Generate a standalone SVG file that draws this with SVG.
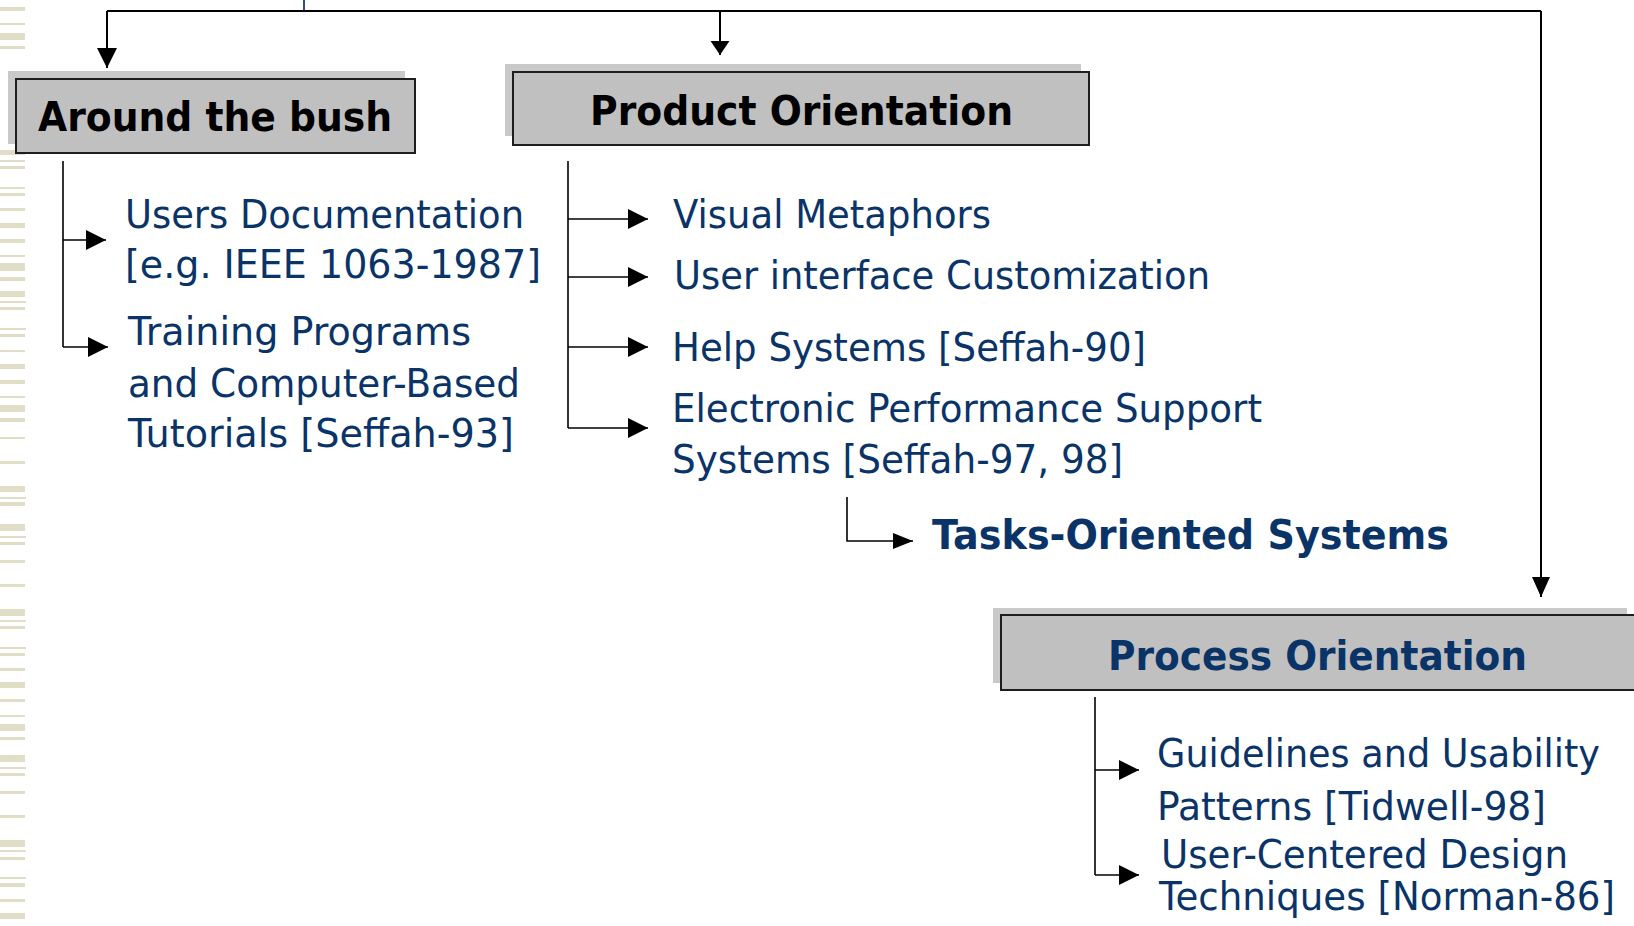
<svg xmlns="http://www.w3.org/2000/svg" width="1634" height="926" viewBox="0 0 1634 926">
<defs>
<style>
.stripe{fill:#e0dec6}
.shadow{fill:#c9c9c9}
.box{fill:#c0c0c0;stroke:#1e1e1e;stroke-width:2}
.head{font-family:"DejaVu Sans",Verdana,sans-serif;font-weight:bold;font-size:40px;fill:#000}
.headb{font-family:"DejaVu Sans",Verdana,sans-serif;font-weight:bold;font-size:40px;fill:#0a3468}
.item{font-family:"DejaVu Sans",Verdana,sans-serif;font-size:39px;fill:#0a3468}
.ln{fill:none;stroke:#000;stroke-width:2}
.lt{fill:none;stroke:#000;stroke-width:1.6}
</style>
<marker id="a20" markerUnits="userSpaceOnUse" markerWidth="20" markerHeight="20" refX="20" refY="10" orient="auto"><path d="M0,0 L20,10 L0,20 z" fill="#000"/></marker>
<marker id="amid" markerUnits="userSpaceOnUse" markerWidth="14" markerHeight="20" refX="14" refY="10" orient="auto"><path d="M0,0.5 L14,10 L0,19.5 z" fill="#000"/></marker>
<marker id="ar" markerUnits="userSpaceOnUse" markerWidth="20" markerHeight="18" refX="20" refY="9" orient="auto"><path d="M0,0 L20,9 L0,18 z" fill="#000"/></marker>
<marker id="at" markerUnits="userSpaceOnUse" markerWidth="20" markerHeight="16" refX="20" refY="8" orient="auto"><path d="M0,0 L20,8 L0,16 z" fill="#000"/></marker>
</defs>
<rect width="1634" height="926" fill="#fff"/>
<g id="stripes">
<rect class="stripe" x="0" y="7" width="25" height="4"/>
<rect class="stripe" x="0" y="23" width="25" height="2"/>
<rect class="stripe" x="0" y="33" width="25" height="7"/>
<rect class="stripe" x="0" y="46" width="25" height="3"/>
<rect class="stripe" x="0" y="150" width="25" height="5"/>
<rect class="stripe" x="0" y="160" width="25" height="2"/>
<rect class="stripe" x="0" y="166" width="25" height="3"/>
<rect class="stripe" x="0" y="187" width="25" height="2"/>
<rect class="stripe" x="0" y="193" width="25" height="3"/>
<rect class="stripe" x="0" y="208" width="25" height="3"/>
<rect class="stripe" x="0" y="223" width="25" height="5"/>
<rect class="stripe" x="0" y="239" width="25" height="4"/>
<rect class="stripe" x="0" y="255" width="25" height="2"/>
<rect class="stripe" x="0" y="263" width="25" height="8"/>
<rect class="stripe" x="0" y="277" width="25" height="4"/>
<rect class="stripe" x="0" y="291" width="25" height="6"/>
<rect class="stripe" x="0" y="301" width="26" height="2"/>
<rect class="stripe" x="0" y="307" width="25" height="3"/>
<rect class="stripe" x="0" y="328" width="26" height="2"/>
<rect class="stripe" x="0" y="334" width="25" height="3"/>
<rect class="stripe" x="0" y="350" width="25" height="2"/>
<rect class="stripe" x="0" y="364" width="25" height="5"/>
<rect class="stripe" x="0" y="380" width="25" height="4"/>
<rect class="stripe" x="0" y="396" width="25" height="2"/>
<rect class="stripe" x="0" y="405" width="25" height="7"/>
<rect class="stripe" x="0" y="418" width="25" height="4"/>
<rect class="stripe" x="0" y="437" width="25" height="2"/>
<rect class="stripe" x="0" y="461" width="25" height="3"/>
<rect class="stripe" x="0" y="486" width="25" height="6"/>
<rect class="stripe" x="0" y="497" width="26" height="2"/>
<rect class="stripe" x="0" y="502" width="25" height="4"/>
<rect class="stripe" x="0" y="524" width="25" height="7"/>
<rect class="stripe" x="0" y="536" width="26" height="2"/>
<rect class="stripe" x="0" y="542" width="25" height="3"/>
<rect class="stripe" x="0" y="560" width="25" height="3"/>
<rect class="stripe" x="0" y="584" width="25" height="3"/>
<rect class="stripe" x="0" y="609" width="25" height="7"/>
<rect class="stripe" x="0" y="620" width="26" height="2"/>
<rect class="stripe" x="0" y="626" width="25" height="3"/>
<rect class="stripe" x="0" y="647" width="26" height="2"/>
<rect class="stripe" x="0" y="653" width="25" height="3"/>
<rect class="stripe" x="0" y="668" width="25" height="3"/>
<rect class="stripe" x="0" y="682" width="25" height="6"/>
<rect class="stripe" x="0" y="699" width="25" height="3"/>
<rect class="stripe" x="0" y="715" width="25" height="2"/>
<rect class="stripe" x="0" y="724" width="25" height="7"/>
<rect class="stripe" x="0" y="737" width="25" height="3"/>
<rect class="stripe" x="0" y="755" width="25" height="7"/>
<rect class="stripe" x="0" y="767" width="26" height="2"/>
<rect class="stripe" x="0" y="773" width="25" height="3"/>
<rect class="stripe" x="0" y="791" width="25" height="3"/>
<rect class="stripe" x="0" y="815" width="25" height="3"/>
<rect class="stripe" x="0" y="840" width="25" height="7"/>
<rect class="stripe" x="0" y="850" width="26" height="2"/>
<rect class="stripe" x="0" y="857" width="25" height="3"/>
<rect class="stripe" x="0" y="877" width="26" height="2"/>
<rect class="stripe" x="0" y="883" width="25" height="4"/>
<rect class="stripe" x="0" y="899" width="25" height="3"/>
<rect class="stripe" x="0" y="913" width="25" height="6"/>
</g>
<line x1="304" y1="0" x2="304" y2="11" stroke="#2b4f8a" stroke-width="2"/>
<g id="connectors">
<path class="ln" d="M107,11 H1541"/>
<path class="ln" d="M107,11 V68" marker-end="url(#a20)"/>
<path class="ln" d="M720,11 V55" marker-end="url(#amid)"/>
<path class="ln" d="M1541,11 V597" marker-end="url(#ar)"/>
<path class="lt" d="M63,161 V347"/>
<path class="lt" d="M63,240 H106" marker-end="url(#a20)"/>
<path class="lt" d="M63,347 H108" marker-end="url(#a20)"/>
<path class="lt" d="M568,161 V428"/>
<path class="lt" d="M568,219 H648" marker-end="url(#a20)"/>
<path class="lt" d="M568,277 H648" marker-end="url(#a20)"/>
<path class="lt" d="M568,347 H648" marker-end="url(#a20)"/>
<path class="lt" d="M568,428 H648" marker-end="url(#a20)"/>
<path class="lt" d="M847,497 V541 H913" marker-end="url(#at)"/>
<path class="lt" d="M1095,697 V875"/>
<path class="lt" d="M1095,770 H1139" marker-end="url(#a20)"/>
<path class="lt" d="M1095,875 H1139" marker-end="url(#a20)"/>
</g>
<g id="around">
<rect class="shadow" x="8" y="71" width="397" height="73"/>
<rect class="box" x="16" y="79" width="399" height="74"/>
<text class="head" x="38" y="131" textLength="354" lengthAdjust="spacingAndGlyphs">Around the bush</text>
</g>
<g id="product">
<rect class="shadow" x="505" y="64" width="576" height="72"/>
<rect class="box" x="513" y="72" width="576" height="73"/>
<text class="head" x="590" y="125" textLength="423" lengthAdjust="spacingAndGlyphs">Product Orientation</text>
</g>
<g id="process">
<rect class="shadow" x="993" y="608" width="634" height="75"/>
<rect class="box" x="1001" y="615" width="640" height="75"/>
<text class="headb" x="1108" y="670" textLength="419" lengthAdjust="spacingAndGlyphs">Process Orientation</text>
</g>
<g id="around-items">
<text class="item" x="125" y="228" textLength="399" lengthAdjust="spacingAndGlyphs">Users Documentation</text>
<text class="item" x="125" y="278" textLength="416" lengthAdjust="spacingAndGlyphs">[e.g. IEEE 1063-1987]</text>
<text class="item" x="128" y="345" textLength="343" lengthAdjust="spacingAndGlyphs">Training Programs</text>
<text class="item" x="128" y="397" textLength="392" lengthAdjust="spacingAndGlyphs">and Computer-Based</text>
<text class="item" x="128" y="447" textLength="386" lengthAdjust="spacingAndGlyphs">Tutorials [Seffah-93]</text>
</g>
<g id="product-items">
<text class="item" x="673" y="228" textLength="318" lengthAdjust="spacingAndGlyphs">Visual Metaphors</text>
<text class="item" x="674" y="289" textLength="536" lengthAdjust="spacingAndGlyphs">User interface Customization</text>
<text class="item" x="672" y="361" textLength="474" lengthAdjust="spacingAndGlyphs">Help Systems [Seffah-90]</text>
<text class="item" x="672" y="422" textLength="590" lengthAdjust="spacingAndGlyphs">Electronic Performance Support</text>
<text class="item" x="672" y="473" textLength="451" lengthAdjust="spacingAndGlyphs">Systems [Seffah-97, 98]</text>
</g>
<g id="tasks">
<text class="headb" x="932" y="549" textLength="517" lengthAdjust="spacingAndGlyphs">Tasks-Oriented Systems</text>
</g>
<g id="process-items">
<text class="item" x="1157" y="767" textLength="443" lengthAdjust="spacingAndGlyphs">Guidelines and Usability</text>
<text class="item" x="1157" y="820" textLength="389" lengthAdjust="spacingAndGlyphs">Patterns [Tidwell-98]</text>
<text class="item" x="1161" y="868" textLength="407" lengthAdjust="spacingAndGlyphs">User-Centered Design</text>
<text class="item" x="1159" y="910" font-size="37" textLength="456" lengthAdjust="spacingAndGlyphs">Techniques [Norman-86]</text>
</g>
</svg>
